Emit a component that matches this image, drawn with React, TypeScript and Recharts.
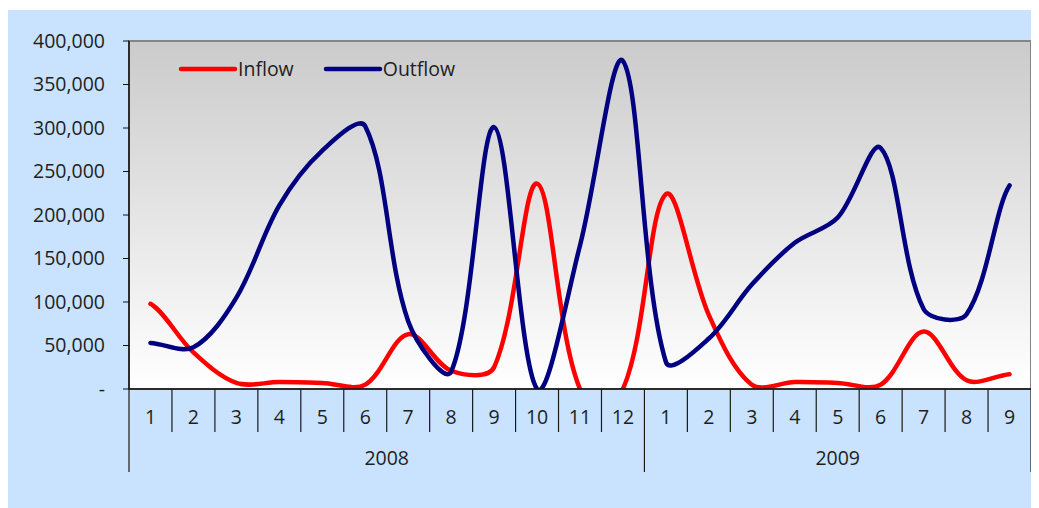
import React from 'react';
import { ComposedChart, Line, XAxis, YAxis, ReferenceArea, Legend } from 'recharts';

const years = ['2008', '2009'];
const monthsPerYear = [12, 9];
const monthLabels = ['1', '2', '3', '4', '5', '6', '7', '8', '9', '10', '11', '12', '1', '2', '3', '4', '5', '6', '7', '8', '9'];
const inflow = [98000, 42000, 7000, 8000, 7000, 5000, 63000, 21000, 25000, 236000, 0, 0, 224000, 85000, 5000, 8000, 7000, 5000, 66000, 10000, 17000];
const outflow = [53000, 48000, 105000, 211000, 274000, 302000, 78000, 20000, 301000, 0, 165000, 377000, 31000, 58000, 120000, 168000, 197000, 277000, 92000, 86000, 234000];
const yTicks = [0, 50000, 100000, 150000, 200000, 250000, 300000, 350000, 400000];

const CHART_W = 1031;
const CHART_H = 498;
const MARGIN = { top: 31, right: 8, bottom: 34, left: 0 };
const Y_AXIS_W = 121;
const X_AXIS_H = 85;
const PLOT_W = CHART_W - MARGIN.left - MARGIN.right - Y_AXIS_W;
const BAND = PLOT_W / monthLabels.length;
const FONT = "'Open Sans', 'Noto Sans', sans-serif";
const FONT_SIZE = 19.5;
const TEXT = '#1e1e1e';

// index of the first month of each year
const yearStarts = monthsPerYear.map((_, i) => monthsPerYear.slice(0, i).reduce((a, b) => a + b, 0));

const data = monthLabels.map((m, i) => {
  const y = yearStarts.filter((s) => s <= i).length - 1;
  return { period: `${years[y]}-${m}`, inflow: inflow[i], outflow: outflow[i] };
});

// smoothed line through every point; tangents are weighted by segment length
// so short segments next to long ones don't overshoot much
const smoothCurve = (context: any) => {
  let xs: number[] = [];
  let ys: number[] = [];
  const dist = (i: number, j: number) => Math.hypot(xs[j] - xs[i], ys[j] - ys[i]) || 1e-6;
  return {
    areaStart() {},
    areaEnd() {},
    lineStart() {
      xs = [];
      ys = [];
    },
    point(x: number, y: number) {
      xs.push(+x);
      ys.push(+y);
    },
    lineEnd() {
      const n = xs.length;
      if (!n) return;
      context.moveTo(xs[0], ys[0]);
      const t = 1 / 3;
      for (let i = 0; i < n - 1; i++) {
        const a = Math.max(i - 1, 0);
        const d = Math.min(i + 2, n - 1);
        const d12 = dist(i, i + 1);
        const d01 = a === i ? d12 : dist(a, i);
        const d23 = d === i + 1 ? d12 : dist(i + 1, d);
        const f1 = (t * d12) / (d01 + d12);
        const f2 = (t * d12) / (d12 + d23);
        const ax = a === i ? xs[i] - (xs[i + 1] - xs[i]) : xs[a];
        const ay = a === i ? ys[i] : ys[a];
        const dx = d === i + 1 ? xs[i + 1] + (xs[i + 1] - xs[i]) : xs[d];
        const dy = d === i + 1 ? ys[i + 1] : ys[d];
        context.bezierCurveTo(
          xs[i] + (xs[i + 1] - ax) * f1,
          ys[i] + (ys[i + 1] - ay) * f1,
          xs[i + 1] - (dx - xs[i]) * f2,
          ys[i + 1] - (dy - ys[i]) * f2,
          xs[i + 1],
          ys[i + 1]
        );
      }
    },
  };
};

// two-level category axis: month labels with boundary ticks, years underneath
const PeriodTick = (props: any) => {
  const { x, y, index } = props;
  const half = BAND / 2;
  const isYearStart = yearStarts.includes(index);
  const isLast = index === monthLabels.length - 1;
  const yearIdx = yearStarts.filter((s) => s <= index).length - 1;
  const mid = (monthsPerYear[yearIdx] - 1) / 2;
  const midIdx = yearStarts[yearIdx] + Math.floor(mid);
  const yearX = x + (mid - Math.floor(mid)) * BAND;
  return (
    <g>
      <line x1={x - half} x2={x - half} y1={y} y2={y + (isYearStart ? 83 : 43)} stroke="#1a1a1a" strokeWidth={1.2} />
      {isLast && <line x1={x + half} x2={x + half} y1={y} y2={y + 83} stroke="#1a1a1a" strokeWidth={1.2} />}
      <text x={x} y={y + 27} textAnchor="middle" dominantBaseline="central" fill={TEXT} fontSize={FONT_SIZE}>
        {monthLabels[index]}
      </text>
      {index === midIdx && (
        <text x={yearX} y={y + 68} textAnchor="middle" dominantBaseline="central" fill={TEXT} fontSize={FONT_SIZE}>
          {years[yearIdx]}
        </text>
      )}
    </g>
  );
};

const renderLegend = (props: any) => {
  const { payload } = props;
  return (
    <div style={{ display: 'flex', alignItems: 'center', fontFamily: FONT, fontSize: FONT_SIZE, color: TEXT }}>
      {(payload || []).map((entry: any, i: number) => (
        <div key={entry.value} style={{ display: 'flex', alignItems: 'center', marginLeft: i ? 29 : 0 }}>
          <svg width={60} height={10}>
            <line x1={3} x2={57} y1={5} y2={5} stroke={entry.color} strokeWidth={4.5} strokeLinecap="round" />
          </svg>
          <span>{entry.value}</span>
        </div>
      ))}
    </div>
  );
};

const fmt = (v: number) => (v === 0 ? '-' : v.toLocaleString('en-US'));

export default function App() {
  return (
    <div style={{ marginTop: 2, width: CHART_W, height: CHART_H, background: '#C9E3FE', fontFamily: FONT }}>
      <ComposedChart width={CHART_W} height={CHART_H} data={data} margin={MARGIN}>
        <defs>
          <linearGradient id="plotBg" x1="0" y1="0" x2="0" y2="1">
            <stop offset="0%" stopColor="#CBCBCB" />
            <stop offset="100%" stopColor="#FFFFFF" />
          </linearGradient>
        </defs>
        <ReferenceArea y1={0} y2={400000} fill="url(#plotBg)" fillOpacity={1} stroke="#858585" strokeWidth={2} />
        <XAxis
          dataKey="period"
          scale="band"
          height={X_AXIS_H}
          interval={0}
          tickLine={false}
          tickSize={0}
          tickMargin={0}
          tick={<PeriodTick />}
          axisLine={{ stroke: '#111', strokeWidth: 1.5 }}
        />
        <YAxis
          width={Y_AXIS_W}
          domain={[0, 400000]}
          ticks={yTicks}
          allowDataOverflow
          interval={0}
          tickFormatter={fmt}
          tickSize={6}
          tickMargin={18}
          tick={{ fill: TEXT, fontSize: FONT_SIZE }}
          axisLine={{ stroke: '#111', strokeWidth: 1.5 }}
          tickLine={{ stroke: '#111' }}
        />
        <Legend
          layout="horizontal"
          verticalAlign="middle"
          align="center"
          content={renderLegend}
          wrapperStyle={{ top: 45, left: 170, width: 'auto' }}
        />
        <Line
          type={smoothCurve as any}
          dataKey="inflow"
          name="Inflow"
          stroke="#FF0000"
          strokeWidth={4.5}
          strokeLinecap="round"
          dot={false}
          activeDot={false}
          isAnimationActive={false}
        />
        <Line
          type={smoothCurve as any}
          dataKey="outflow"
          name="Outflow"
          stroke="#000080"
          strokeWidth={4.5}
          strokeLinecap="round"
          dot={false}
          activeDot={false}
          isAnimationActive={false}
        />
      </ComposedChart>
    </div>
  );
}
